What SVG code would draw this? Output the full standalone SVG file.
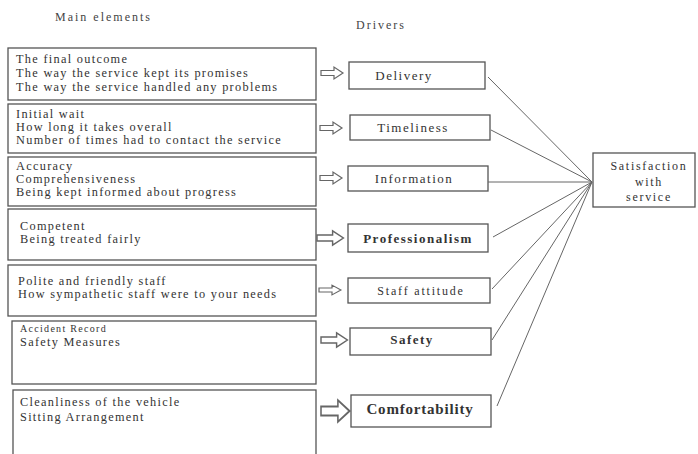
<svg xmlns="http://www.w3.org/2000/svg" width="698" height="454" viewBox="0 0 698 454">
<style>
.bx{fill:#fff;stroke:#555;stroke-width:1.3}
.t{font-family:"Liberation Serif",serif;font-size:12.3px;letter-spacing:1.3px;fill:#333}
.d{font-family:"Liberation Serif",serif;font-size:13px;letter-spacing:1.5px;fill:#333;text-anchor:middle}
.h{font-family:"Liberation Serif",serif;font-size:12px;letter-spacing:2px;fill:#444}
.ar{fill:#fff;stroke:#666;stroke-width:1.2}
.ln{stroke:#666;stroke-width:1;fill:none}
</style>
<defs>
<path id="arr" d="M0,-2.5 H13 V-6 L22,0 L13,6 V2.5 H0 Z"/>
</defs>
<rect width="698" height="454" fill="#fff"/>
<text class="h" x="55" y="21">Main elements</text>
<text class="h" x="356" y="29">Drivers</text>

<g id="e1"><rect class="bx" x="8" y="48" width="308" height="52"/>
<text class="t" x="16" y="63">The final outcome</text>
<text class="t" x="16" y="77">The way the service kept its promises</text>
<text class="t" x="16" y="91">The way the service handled any problems</text></g>
<g id="e2"><rect class="bx" x="8" y="104" width="308" height="49"/>
<text class="t" x="16" y="118">Initial wait</text>
<text class="t" x="16" y="131">How long it takes overall</text>
<text class="t" x="16" y="144">Number of times had to contact the service</text></g>
<g id="e3"><rect class="bx" x="8" y="157" width="308" height="49"/>
<text class="t" x="16" y="170">Accuracy</text>
<text class="t" x="16" y="183">Comprehensiveness</text>
<text class="t" x="16" y="196">Being kept informed about progress</text></g>
<g id="e4"><rect class="bx" x="8" y="209" width="308" height="51"/>
<text class="t" x="20" y="230">Competent</text>
<text class="t" x="20" y="243">Being treated fairly</text></g>
<g id="e5"><rect class="bx" x="8" y="265" width="308" height="51"/>
<text class="t" x="18" y="285">Polite and friendly staff</text>
<text class="t" x="18" y="298">How sympathetic staff were to your needs</text></g>
<g id="e6"><rect class="bx" x="12" y="321" width="304" height="63"/>
<text class="t" x="20" y="332" style="font-size:10px">Accident Record</text>
<text class="t" x="20" y="346">Safety Measures</text></g>
<g id="e7"><rect class="bx" x="13" y="390" width="303" height="70"/>
<text class="t" x="20" y="406">Cleanliness of the vehicle</text>
<text class="t" x="20" y="421">Sitting Arrangement</text></g>

<g id="arrows">
<use href="#arr" class="ar" transform="translate(321,73)"/>
<use href="#arr" class="ar" transform="translate(320,128)"/>
<use href="#arr" class="ar" transform="translate(320,178)"/>
<use href="#arr" class="ar" transform="translate(317,238) scale(1.2)"/>
<use href="#arr" class="ar" transform="translate(319,290) scale(1,0.8)"/>
<use href="#arr" class="ar" transform="translate(321,340) scale(1.2)"/>
<use href="#arr" class="ar" transform="translate(321,411) scale(1.3,1.8)"/>
</g>

<g id="d1"><rect class="bx" x="349" y="62" width="136" height="27"/><text class="d" x="404" y="80">Delivery</text></g>
<g id="d2"><rect class="bx" x="350" y="115" width="140" height="25"/><text class="d" x="413" y="132">Timeliness</text></g>
<g id="d3"><rect class="bx" x="348" y="166" width="140" height="25"/><text class="d" x="414" y="183">Information</text></g>
<g id="d4"><rect class="bx" x="348" y="224" width="140" height="28"/><text class="d" x="418" y="243" font-weight="bold">Professionalism</text></g>
<g id="d5"><rect class="bx" x="348" y="278" width="142" height="25"/><text class="d" x="421" y="295" style="font-size:12px;letter-spacing:1.8px">Staff attitude</text></g>
<g id="d6"><rect class="bx" x="350" y="328" width="141" height="27"/><text class="d" x="412" y="344" font-weight="bold">Safety</text></g>
<g id="d7"><rect class="bx" x="351" y="395" width="140" height="32"/><text class="d" x="420" y="414" font-weight="bold" style="font-size:15px;letter-spacing:0.8px">Comfortability</text></g>

<g id="sat"><rect class="bx" x="593" y="153" width="102" height="54"/>
<text class="d" x="649" y="170" style="font-size:12px;letter-spacing:1.7px">Satisfaction</text>
<text class="d" x="649" y="186" style="font-size:12px;letter-spacing:1.7px">with</text>
<text class="d" x="649" y="201" style="font-size:12px;letter-spacing:1.7px">service</text></g>

<g id="connectors">
<line class="ln" x1="488" y1="77" x2="592" y2="182"/>
<line class="ln" x1="491" y1="130" x2="592" y2="182"/>
<line class="ln" x1="488" y1="182" x2="592" y2="182"/>
<line class="ln" x1="493" y1="237" x2="592" y2="182"/>
<line class="ln" x1="492" y1="289" x2="592" y2="182"/>
<line class="ln" x1="492" y1="340" x2="592" y2="182"/>
<line class="ln" x1="497" y1="406" x2="592" y2="182"/>
</g>
</svg>
